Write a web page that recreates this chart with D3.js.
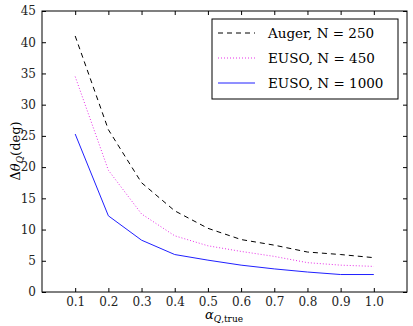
<!DOCTYPE html>
<html><head><meta charset="utf-8">
<script src="https://cdn.jsdelivr.net/npm/d3@7"></script>
<style>body{margin:0;background:#fff}svg{display:block}</style>
</head><body>
<script>
const alphas = [0.1,0.2,0.3,0.4,0.5,0.6,0.7,0.8,0.9,1.0];
const auger250 = [41,26,17.5,13,10.2,8.4,7.5,6.4,6.0,5.5];
const euso450 = [34.5,19.5,12.5,9.0,7.4,6.5,5.7,4.7,4.3,4.1];
const euso1000 = [25.3,12.2,8.3,6.0,5.1,4.3,3.7,3.2,2.8,2.8];
const xTicks = [0.1,0.2,0.3,0.4,0.5,0.6,0.7,0.8,0.9,1.0];
const yTicks = [0,5,10,15,20,25,30,35,40,45];
const seriesNames = ["Auger, N = 250","EUSO, N = 450","EUSO, N = 1000"];

const FONT='"DejaVu Serif", serif';
const W=413,H=326, L=42, R=407, T=11, B=292;
const svg=d3.select("body").append("svg").attr("width",W).attr("height",H).attr("font-family",FONT);
const x=d3.scaleLinear().domain([0,1.1]).range([L,R]);
const y=d3.scaleLinear().domain([0,45]).range([B,T]);

const series=[
 {name:seriesNames[0], v:auger250, color:"#000", dash:"5,4", w:1},
 {name:seriesNames[1], v:euso450, color:"#e830e8", dash:"1,2", w:1},
 {name:seriesNames[2], v:euso1000, color:"#2020ff", dash:null, w:1}
];
const line=d3.line().x((d,i)=>x(alphas[i])).y(d=>y(d));
series.forEach(s=>{
  svg.append("path").attr("d",line(s.v)).attr("fill","none").attr("stroke",s.color)
   .attr("stroke-width",s.w).attr("stroke-dasharray",s.dash);
});

const fmtx=d3.format(".1f");
svg.append("g").attr("transform",`translate(0,${B})`).call(d3.axisBottom(x).tickValues(xTicks).tickFormat(fmtx).tickSizeInner(-4).tickSizeOuter(0).tickPadding(5));
svg.append("g").attr("transform",`translate(0,${T})`).call(d3.axisTop(x).tickValues(xTicks).tickFormat("").tickSizeInner(-4).tickSizeOuter(0));
svg.append("g").attr("transform",`translate(${L},0)`).call(d3.axisLeft(y).tickValues(yTicks).tickSizeInner(-4).tickSizeOuter(0).tickPadding(6));
svg.append("g").attr("transform",`translate(${R},0)`).call(d3.axisRight(y).tickValues(yTicks).tickFormat("").tickSizeInner(-4).tickSizeOuter(0));
svg.selectAll(".domain").remove();
svg.selectAll("g").attr("font-family",FONT);
svg.selectAll(".tick text").attr("font-size",12).attr("fill","#222");
svg.selectAll(".tick line").attr("stroke","#000");
svg.append("rect").attr("x",L).attr("y",T).attr("width",R-L).attr("height",B-T).attr("fill","none").attr("stroke","#000").attr("stroke-width",1);

const lg=svg.append("g");
lg.append("rect").attr("x",212).attr("y",19).attr("width",186).attr("height",80).attr("fill","#fff").attr("stroke","#000").attr("stroke-width",1);
series.forEach((s,i)=>{
  const yy=33+i*25;
  lg.append("line").attr("x1",218).attr("x2",255).attr("y1",yy).attr("y2",yy).attr("stroke",s.color).attr("stroke-width",1).attr("stroke-dasharray",s.dash);
  lg.append("text").attr("x",268).attr("y",yy+5).attr("font-size",13.5).text(s.name);
});

const yl=svg.append("text").attr("transform","translate(20,151) rotate(-90)").attr("text-anchor","middle").attr("font-size",13);
yl.append("tspan").text("Δ");
yl.append("tspan").attr("font-style","italic").text("θ");
yl.append("tspan").attr("font-style","italic").attr("font-size",9).attr("dy",3).text("Q");
yl.append("tspan").attr("dy",-3).text("(deg)");
const xl=svg.append("text").attr("x",224).attr("y",319).attr("text-anchor","middle").attr("font-size",13);
xl.append("tspan").attr("font-style","italic").text("α");
xl.append("tspan").attr("font-size",9).attr("dy",3).attr("font-style","italic").text("Q");
xl.append("tspan").attr("font-size",9).text(",true");
</script>
</body></html>
